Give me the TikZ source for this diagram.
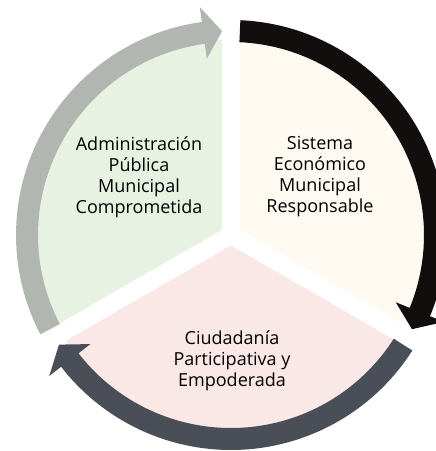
\documentclass[tikz,border=0pt]{standalone}
\usepackage{fontspec}
\setmainfont{Open Sans}
\usetikzlibrary{calc}
\definecolor{sectgreen}{HTML}{E8F2E2}
\definecolor{sectcream}{HTML}{FEF9F1}
\definecolor{sectpink}{HTML}{FAE8E7}
\definecolor{arrowgray}{HTML}{B1B6B0}
\definecolor{arrowblack}{HTML}{130E0E}
\definecolor{arrowdark}{HTML}{4A4F57}
\tikzset{sectortext/.style={align=center, font=\fontsize{18}{21}\selectfont, text=black}}
% thick circular arrow: colour, start angle, tip angle (clockwise)
\def\cyclearrow[#1](#2:#3){\fill[#1] (#2:215) arc[start angle=#2, end angle={#3+5.3}, radius=215] -- ({#3+5.3}:230) -- (#3:204) -- ({#3+5.3}:178) -- ({#3+5.3}:193) arc[start angle={#3+5.3}, end angle=#2, radius=193] -- cycle;}

\begin{document}
\begin{tikzpicture}[x=1pt,y=1pt]
			%%%%% START %%%%%
			
			\useasboundingbox (0,0) rectangle (436,451);
			\clip (0,0) rectangle (436,451);
			\coordinate (ctr) at (231,216);
			
			\begin{scope}[shift={(ctr)}]
			\fill[sectgreen] (0,0) -- (90:196) arc (90:210:196) -- cycle;
			\fill[sectcream] (0,0) -- (90:196) arc (90:-30:196) -- cycle;
			\fill[sectpink] (0,0) -- (210:196) arc (210:330:196) -- cycle;
			
			\foreach \a in {90,210,330}
				\draw[white, line width=18] (0,0) -- (\a:200);
			
			\cyclearrow[arrowgray](207.5:92.5)
			\cyclearrow[arrowblack](87.5:-27.5)
			\cyclearrow[arrowdark](-32.5:-147.5)
			\end{scope}
			
			\node[sectortext] (admin) at (139,274) {Administración\\Pública\\Municipal\\Comprometida};
			\node[sectortext] (economia) at (320,274) {Sistema\\Económico\\Municipal\\Responsable};
			\node[sectortext] (ciudadania) at (232,90) {Ciudadanía\\Participativa y\\Empoderada};
			
			%%%%% END %%%%%
\end{tikzpicture}
\end{document}
